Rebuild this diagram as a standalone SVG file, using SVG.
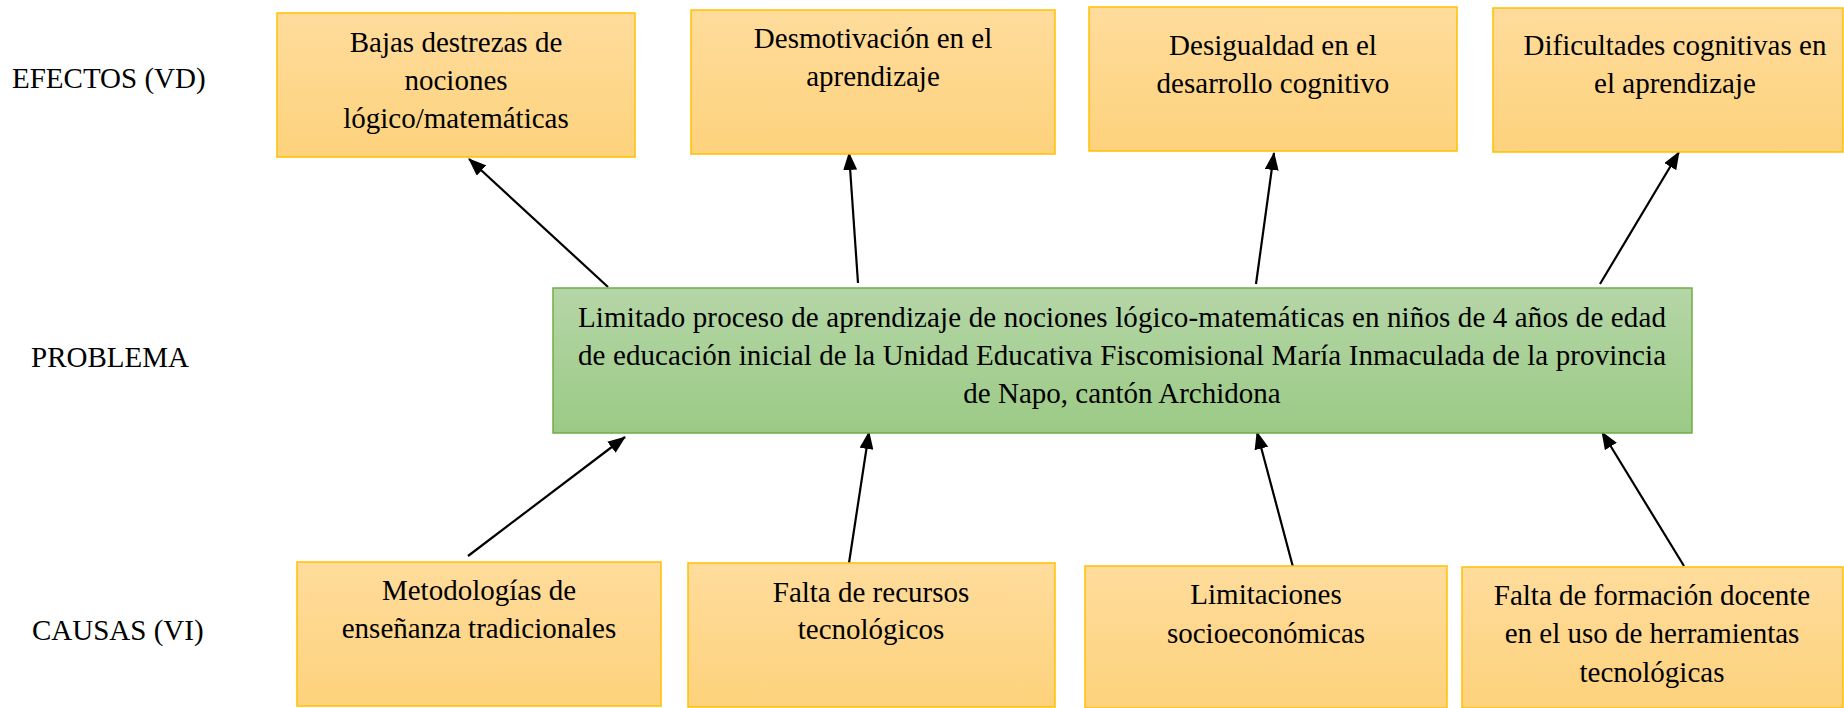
<svg xmlns="http://www.w3.org/2000/svg" width="1844" height="708" viewBox="0 0 1844 708">
<defs>
<linearGradient id="gOr" x1="0" y1="0" x2="0" y2="1"><stop offset="0" stop-color="#FFDC9C"/><stop offset="1" stop-color="#FDD27C"/></linearGradient>
<linearGradient id="gGr" x1="0" y1="0" x2="0" y2="1"><stop offset="0" stop-color="#B5D6A7"/><stop offset="1" stop-color="#9BCA85"/></linearGradient>
<marker id="ah" markerUnits="userSpaceOnUse" markerWidth="18" markerHeight="14" refX="17" refY="7" orient="auto"><path d="M0,0 L18,7 L0,14 z" fill="#000"/></marker>
<style>
.t{font-family:"Liberation Serif","Times New Roman",serif;font-size:29px;fill:#000}
.c{text-anchor:middle}
.or{fill:url(#gOr);stroke:#FFC000;stroke-width:1.5}
.gr{fill:url(#gGr);stroke:#70AD47;stroke-width:1.5}
.cn{stroke:#000;stroke-width:2.2;fill:none;marker-end:url(#ah)}
</style>
</defs>
<rect width="1844" height="708" fill="#fff"/>
<g id="labels">
<text class="t" x="12" y="88">EFECTOS (VD)</text>
<text class="t" x="31" y="367">PROBLEMA</text>
<text class="t" x="32" y="640">CAUSAS (VI)</text>
</g>
<g id="connectors">
<line class="cn" x1="608" y1="287" x2="469" y2="159"/>
<line class="cn" x1="858" y1="283" x2="849" y2="153"/>
<line class="cn" x1="1256" y1="284" x2="1274" y2="153"/>
<line class="cn" x1="1600" y1="284" x2="1679" y2="152"/>
<line class="cn" x1="468" y1="556" x2="625" y2="437"/>
<line class="cn" x1="849" y1="563" x2="869" y2="432"/>
<line class="cn" x1="1293" y1="567" x2="1257" y2="432"/>
<line class="cn" x1="1684" y1="566" x2="1602" y2="432"/>
</g>
<g id="e1"><rect class="or" x="277" y="13" width="358" height="144"/>
<text class="t c" x="456" y="52">Bajas destrezas de</text><text class="t c" x="456" y="90">nociones</text><text class="t c" x="456" y="128">lógico/matemáticas</text></g>
<g id="e2"><rect class="or" x="691" y="10" width="364" height="144"/>
<text class="t c" x="873" y="48">Desmotivación en el</text><text class="t c" x="873" y="86">aprendizaje</text></g>
<g id="e3"><rect class="or" x="1089" y="7" width="368" height="144"/>
<text class="t c" x="1273" y="55">Desigualdad en el</text><text class="t c" x="1273" y="93">desarrollo cognitivo</text></g>
<g id="e4"><rect class="or" x="1493" y="8" width="350" height="144"/>
<text class="t c" x="1675" y="55">Dificultades cognitivas en</text><text class="t c" x="1675" y="93">el aprendizaje</text></g>
<g id="problema"><rect class="gr" x="553" y="288" width="1139" height="145"/>
<text class="t c" x="1122" y="327" textLength="1088" lengthAdjust="spacing">Limitado proceso de aprendizaje de nociones lógico-matemáticas en niños de 4 años de edad</text>
<text class="t c" x="1122" y="365" textLength="1088" lengthAdjust="spacing">de educación inicial de la Unidad Educativa Fiscomisional María Inmaculada de la provincia</text>
<text class="t c" x="1122" y="403">de Napo, cantón Archidona</text></g>
<g id="c1"><rect class="or" x="297" y="562" width="364" height="144"/>
<text class="t c" x="479" y="600">Metodologías de</text><text class="t c" x="479" y="638">enseñanza tradicionales</text></g>
<g id="c2"><rect class="or" x="688" y="563" width="367" height="144"/>
<text class="t c" x="871" y="602">Falta de recursos</text><text class="t c" x="871" y="639">tecnológicos</text></g>
<g id="c3"><rect class="or" x="1085" y="566" width="362" height="142"/>
<text class="t c" x="1266" y="604">Limitaciones</text><text class="t c" x="1266" y="643">socioeconómicas</text></g>
<g id="c4"><rect class="or" x="1462" y="567" width="381" height="141"/>
<text class="t c" x="1652" y="605">Falta de formación docente</text><text class="t c" x="1652" y="643">en el uso de herramientas</text><text class="t c" x="1652" y="682">tecnológicas</text></g>
</svg>
